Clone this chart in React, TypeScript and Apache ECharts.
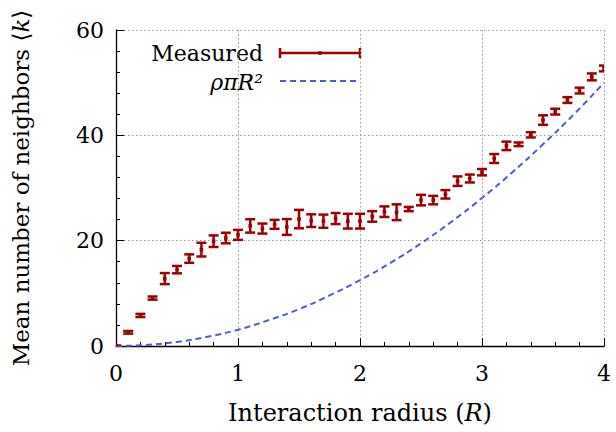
import React, { useEffect, useRef } from "react";
import * as echarts from "echarts";

const radiusX = [0, 0.1, 0.2, 0.3, 0.4, 0.5, 0.6, 0.7, 0.8, 0.9, 1.0, 1.1, 1.2, 1.3, 1.4, 1.5, 1.6, 1.7, 1.8, 1.9, 2.0, 2.1, 2.2, 2.3, 2.4, 2.5, 2.6, 2.7, 2.8, 2.9, 3.0, 3.1, 3.2, 3.3, 3.4, 3.5, 3.6, 3.7, 3.8, 3.9, 4.0];
const measuredK = [0, 2.6, 5.8, 9.1, 12.8, 14.5, 16.6, 18.3, 19.9, 20.5, 21.1, 22.8, 22.3, 23.1, 22.6, 24.1, 23.8, 23.7, 24.2, 23.7, 23.7, 24.6, 25.5, 25.4, 26.0, 27.7, 27.7, 28.8, 31.3, 31.8, 33.0, 35.6, 38.0, 38.3, 40.1, 42.9, 44.5, 46.7, 48.5, 51.1, 52.7];
const measuredErr = [0.1, 0.25, 0.3, 0.3, 1.05, 0.7, 0.8, 1.3, 1.1, 1.0, 0.95, 1.27, 0.95, 0.85, 1.5, 1.75, 1.2, 1.25, 1.05, 1.4, 1.4, 1.0, 1.0, 1.5, 0.4, 1.0, 0.8, 0.8, 0.9, 0.75, 0.6, 0.85, 0.8, 0.35, 0.5, 0.9, 0.55, 0.55, 0.55, 0.65, 0.55];
const curveR = [0, 0.25, 0.5, 0.75, 1.0, 1.25, 1.5, 1.75, 2.0, 2.25, 2.5, 2.75, 3.0, 3.25, 3.5, 3.75, 4.0];
const curveK = [0, 0.2, 0.78, 1.76, 3.1, 4.9, 7.0, 9.6, 12.5, 15.8, 19.5, 23.6, 28.1, 33.0, 38.3, 43.9, 50.0];

const RED = "#a00000";
const BLUE = "#4a5fd6";
const FONT = "DejaVu Serif";

export default function App() {
  const ref = useRef<HTMLDivElement>(null);
  useEffect(() => {
    if (!ref.current) return;
    const chart = echarts.init(ref.current, null, { renderer: "svg" });
    const errData = radiusX.map((x, i) => [x, measuredK[i], measuredErr[i]]);
    const curveData = curveR.map((x, i) => [x, curveK[i]]);
    const gridLine = { show: true, lineStyle: { color: "#9a9a9a", type: [1.5, 2.5], width: 1 } };
    const tick = { show: true, inside: true, length: 8, lineStyle: { color: "#000", width: 1 } };
    const minor = { show: true, splitNumber: 5, length: 4, lineStyle: { color: "#000", width: 1 } };
    chart.setOption({
      animation: false,
      backgroundColor: "#ffffff",
      grid: { left: 116, right: 12, top: 30, bottom: 86, containLabel: false },
      xAxis: {
        type: "value",
        min: 0,
        max: 4,
        interval: 1,
        axisLine: { show: true, onZero: false, lineStyle: { color: "#000", width: 1.3 } },
        axisTick: tick,
        minorTick: minor,
        axisLabel: { color: "#000", fontFamily: FONT, fontSize: 22, margin: 16 },
        splitLine: gridLine,
        name: "Interaction radius ({i|R})",
        nameLocation: "middle",
        nameGap: 55,
        nameTextStyle: {
          color: "#000",
          fontFamily: FONT,
          fontSize: 24,
          rich: { i: { fontStyle: "italic", fontFamily: FONT, fontSize: 24, color: "#000" } },
        },
      },
      yAxis: {
        type: "value",
        min: 0,
        max: 60,
        interval: 20,
        axisLine: { show: true, onZero: false, lineStyle: { color: "#000", width: 1.3 } },
        axisTick: tick,
        minorTick: minor,
        axisLabel: { color: "#000", fontFamily: FONT, fontSize: 22, margin: 12 },
        splitLine: gridLine,
        name: "Mean number of neighbors \u27e8{i|k}\u27e9",
        nameLocation: "middle",
        nameGap: 84,
        nameTextStyle: {
          color: "#000",
          fontFamily: FONT,
          fontSize: 23,
          rich: { i: { fontStyle: "italic", fontFamily: FONT, fontSize: 23, color: "#000" } },
        },
      },
      series: [
        {
          type: "line",
          data: curveData,
          smooth: true,
          showSymbol: false,
          symbol: "none",
          lineStyle: { color: BLUE, width: 2, type: [6, 4] },
          z: 2,
        },
        {
          type: "custom",
          data: errData,
          clip: true,
          z: 3,
          renderItem: (params: any, api: any) => {
            const x = api.value(0);
            const y = api.value(1);
            const e = api.value(2);
            const top = api.coord([x, y + e]);
            const bot = api.coord([x, y - e]);
            const mid = api.coord([x, y]);
            const hw = 5;
            const style = { stroke: RED, lineWidth: 2.5 };
            return {
              type: "group",
              children: [
                { type: "line", shape: { x1: top[0], y1: top[1], x2: bot[0], y2: bot[1] }, style },
                { type: "line", shape: { x1: top[0] - hw, y1: top[1], x2: top[0] + hw, y2: top[1] }, style },
                { type: "line", shape: { x1: bot[0] - hw, y1: bot[1], x2: bot[0] + hw, y2: bot[1] }, style },
                { type: "rect", shape: { x: mid[0] - 1.8, y: mid[1] - 1.8, width: 3.6, height: 3.6 }, style: { fill: RED } },
              ],
            };
          },
        },
      ],
      graphic: [
        {
          type: "text",
          x: 263,
          y: 53,
          style: { text: "Measured", fontFamily: FONT, fontSize: 22, fill: "#000", align: "right", verticalAlign: "middle" },
        },
        {
          type: "text",
          x: 263,
          y: 82,
          style: { text: "\u03c1\u03c0R\u00b2", fontFamily: FONT, fontSize: 22, fontStyle: "italic", fill: "#000", align: "right", verticalAlign: "middle" },
        },
        { type: "line", shape: { x1: 280, y1: 53, x2: 360, y2: 53 }, style: { stroke: RED, lineWidth: 2.5 } },
        { type: "line", shape: { x1: 280, y1: 48, x2: 280, y2: 58 }, style: { stroke: RED, lineWidth: 2.5 } },
        { type: "line", shape: { x1: 360, y1: 48, x2: 360, y2: 58 }, style: { stroke: RED, lineWidth: 2.5 } },
        { type: "rect", shape: { x: 318.2, y: 51.2, width: 3.6, height: 3.6 }, style: { fill: RED } },
        { type: "line", shape: { x1: 280, y1: 81, x2: 358, y2: 81 }, style: { stroke: BLUE, lineWidth: 2, lineDash: [6, 4] } },
      ],
    });
    return () => chart.dispose();
  }, []);
  return <div ref={ref} style={{ position: "fixed", left: 0, top: 0, width: 616, height: 432 }} />;
}
